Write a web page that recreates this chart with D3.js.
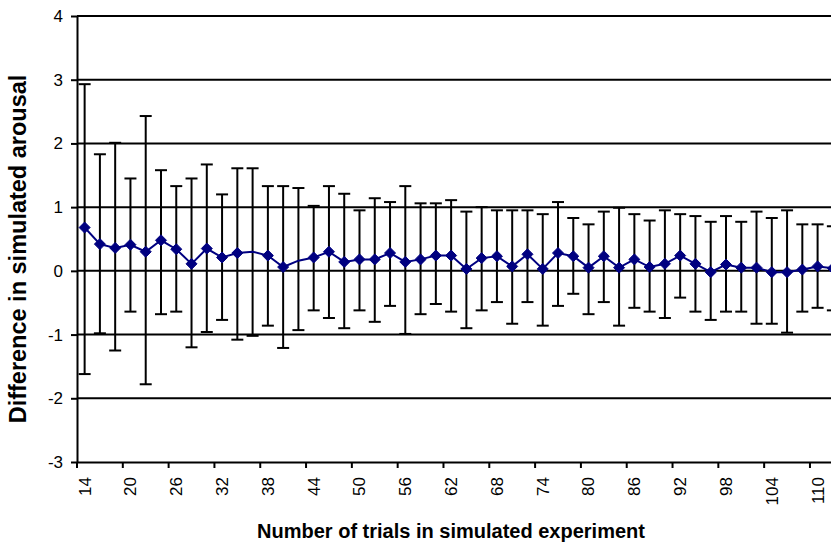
<!DOCTYPE html>
<html>
<head>
<meta charset="utf-8">
<script src="https://cdn.jsdelivr.net/npm/d3@7"></script>
<style>
  html, body { margin: 0; padding: 0; background: #fff; }
  svg { display: block; }
  text { font-family: "Liberation Sans", Arial, sans-serif; fill: #000; }
</style>
</head>
<body>
<svg id="chart" width="831" height="544"></svg>
<script>
// Number of trials per simulated experiment
const trials = [14, 16, 18, 20, 22, 24, 26, 28, 30, 32, 34, 36, 38, 40, 42, 44, 46, 48, 50, 52,
                54, 56, 58, 60, 62, 64, 66, 68, 70, 72, 74, 76, 78, 80, 82, 84, 86, 88, 90, 92,
                94, 96, 98, 100, 102, 104, 106, 108, 110, 112];

// Mean difference in simulated arousal
const meanDiff = [0.68, 0.42, 0.36, 0.41, 0.30, 0.48, 0.34, 0.11, 0.35, 0.21, 0.28, 0.30, 0.24, 0.06, 0.16, 0.21, 0.30, 0.14, 0.18, 0.18,
                  0.28, 0.14, 0.18, 0.24, 0.24, 0.03, 0.20, 0.23, 0.07, 0.26, 0.03, 0.28, 0.23, 0.05, 0.23, 0.05, 0.18, 0.06, 0.11, 0.24,
                  0.11, -0.02, 0.10, 0.05, 0.05, -0.02, -0.02, 0.02, 0.07, 0.04];

// Upper and lower ends of the error bars
const upperBound = [2.93, 1.83, 2.01, 1.45, 2.43, 1.58, 1.33, 1.45, 1.67, 1.20, 1.61, 1.61, 1.33, 1.33, 1.30, 1.02, 1.33, 1.21, 0.95, 1.14,
                    1.08, 1.33, 1.06, 1.06, 1.11, 0.93, 1.00, 0.95, 0.95, 0.95, 0.89, 1.08, 0.83, 0.73, 0.93, 0.99, 0.89, 0.79, 0.95, 0.89,
                    0.86, 0.77, 0.86, 0.77, 0.93, 0.83, 0.95, 0.73, 0.73, 0.70];
const lowerBound = [-1.62, -0.98, -1.25, -0.64, -1.78, -0.68, -0.64, -1.20, -0.96, -0.77, -1.08, -1.02, -0.86, -1.21, -0.93, -0.62, -0.74, -0.90, -0.62, -0.80,
                    -0.55, -0.99, -0.68, -0.52, -0.64, -0.90, -0.62, -0.49, -0.83, -0.49, -0.86, -0.55, -0.36, -0.68, -0.49, -0.86, -0.58, -0.64, -0.74, -0.42,
                    -0.64, -0.77, -0.64, -0.64, -0.83, -0.83, -0.97, -0.64, -0.58, -0.62];

// Points drawn without a marker
const unmarkedTrials = [36, 42];

// Axis ticks
const yTicks = [-3, -2, -1, 0, 1, 2, 3, 4];
const xLabelTrials = [14, 20, 26, 32, 38, 44, 50, 56, 62, 68, 74, 80, 86, 92, 98, 104, 110];

(function drawChart() {
  const rows = trials.map((t, i) => ({ t, mean: meanDiff[i], hi: upperBound[i], lo: lowerBound[i] }));

  const svg = d3.select("#chart");
  const plotLeft = 77, plotTop = 16, plotBottom = 462;
  const step = 15.27;
  const tickFont = 17;

  const x = d3.scaleBand().domain(trials).range([plotLeft, plotLeft + step * trials.length]).paddingInner(0).paddingOuter(0);
  const cx = t => x(t) + x.bandwidth() / 2;
  const y = d3.scaleLinear().domain([-3, 4]).range([plotBottom, plotTop]);

  // Horizontal gridlines
  svg.append("g")
    .selectAll("line")
    .data(yTicks.filter(v => v > -3))
    .join("line")
    .attr("x1", plotLeft).attr("x2", 871)
    .attr("y1", d => y(d)).attr("y2", d => y(d))
    .attr("stroke", "#000").attr("stroke-width", 2);

  // Y axis
  const yAxis = svg.append("g")
    .attr("transform", `translate(${plotLeft},0)`)
    .call(d3.axisLeft(y).tickValues(yTicks).tickSize(6).tickSizeOuter(0).tickPadding(8).tickFormat(d => String(d)));
  yAxis.select(".domain").attr("stroke", "#000").attr("stroke-width", 2);
  yAxis.selectAll(".tick line").attr("stroke", "#000").attr("stroke-width", 2);
  yAxis.selectAll(".tick text").attr("font-size", tickFont).attr("font-family", "Liberation Sans, Arial, sans-serif");

  // X axis: labels centred on categories, tick marks on category boundaries
  const xAxis = svg.append("g")
    .attr("transform", `translate(0,${plotBottom})`)
    .call(d3.axisBottom(x).tickValues(xLabelTrials).tickSize(0).tickSizeOuter(0).tickPadding(0));
  xAxis.select(".domain").attr("stroke", "#000").attr("stroke-width", 2);
  xAxis.selectAll(".tick text")
    .attr("font-size", tickFont)
    .attr("font-family", "Liberation Sans, Arial, sans-serif")
    .attr("transform", "rotate(-90)")
    .attr("text-anchor", "end")
    .attr("dy", "0.35em")
    .attr("x", -15)
    .attr("y", 0);
  svg.append("g")
    .selectAll("line")
    .data(xLabelTrials)
    .join("line")
    .attr("x1", d => x(d)).attr("x2", d => x(d))
    .attr("y1", plotBottom).attr("y2", plotBottom + 6)
    .attr("stroke", "#000").attr("stroke-width", 2);

  // Error bars
  const capHalf = 6;
  const bars = svg.append("g").attr("stroke", "#000").attr("stroke-width", 2);
  bars.selectAll("line.stem").data(rows).join("line").attr("class", "stem")
    .attr("x1", d => cx(d.t)).attr("x2", d => cx(d.t))
    .attr("y1", d => y(d.hi)).attr("y2", d => y(d.lo));
  bars.selectAll("line.cap-hi").data(rows).join("line").attr("class", "cap-hi")
    .attr("x1", d => cx(d.t) - capHalf).attr("x2", d => cx(d.t) + capHalf)
    .attr("y1", d => y(d.hi)).attr("y2", d => y(d.hi));
  bars.selectAll("line.cap-lo").data(rows).join("line").attr("class", "cap-lo")
    .attr("x1", d => cx(d.t) - capHalf).attr("x2", d => cx(d.t) + capHalf)
    .attr("y1", d => y(d.lo)).attr("y2", d => y(d.lo));

  // Mean line with diamond markers
  const navy = "#000080";
  svg.append("path")
    .datum(rows)
    .attr("fill", "none")
    .attr("stroke", navy)
    .attr("stroke-width", 2)
    .attr("d", d3.line().x(d => cx(d.t)).y(d => y(d.mean)));

  svg.append("g")
    .selectAll("path")
    .data(rows.filter(d => !unmarkedTrials.includes(d.t)))
    .join("path")
    .attr("transform", d => `translate(${cx(d.t)},${y(d.mean)})`)
    .attr("d", "M0,-5.5L5.5,0L0,5.5L-5.5,0Z")
    .attr("fill", navy)
    .attr("stroke", navy)
    .attr("stroke-width", 1);

  // Axis titles
  svg.append("text")
    .attr("x", 451).attr("y", 538)
    .attr("text-anchor", "middle")
    .attr("font-size", 20).attr("font-weight", "bold")
    .text("Number of trials in simulated experiment");

  svg.append("text")
    .attr("transform", "translate(26,249) rotate(-90)")
    .attr("text-anchor", "middle")
    .attr("font-size", 23.5).attr("font-weight", "bold")
    .text("Difference in simulated arousal");
})();
</script>
</body>
</html>
